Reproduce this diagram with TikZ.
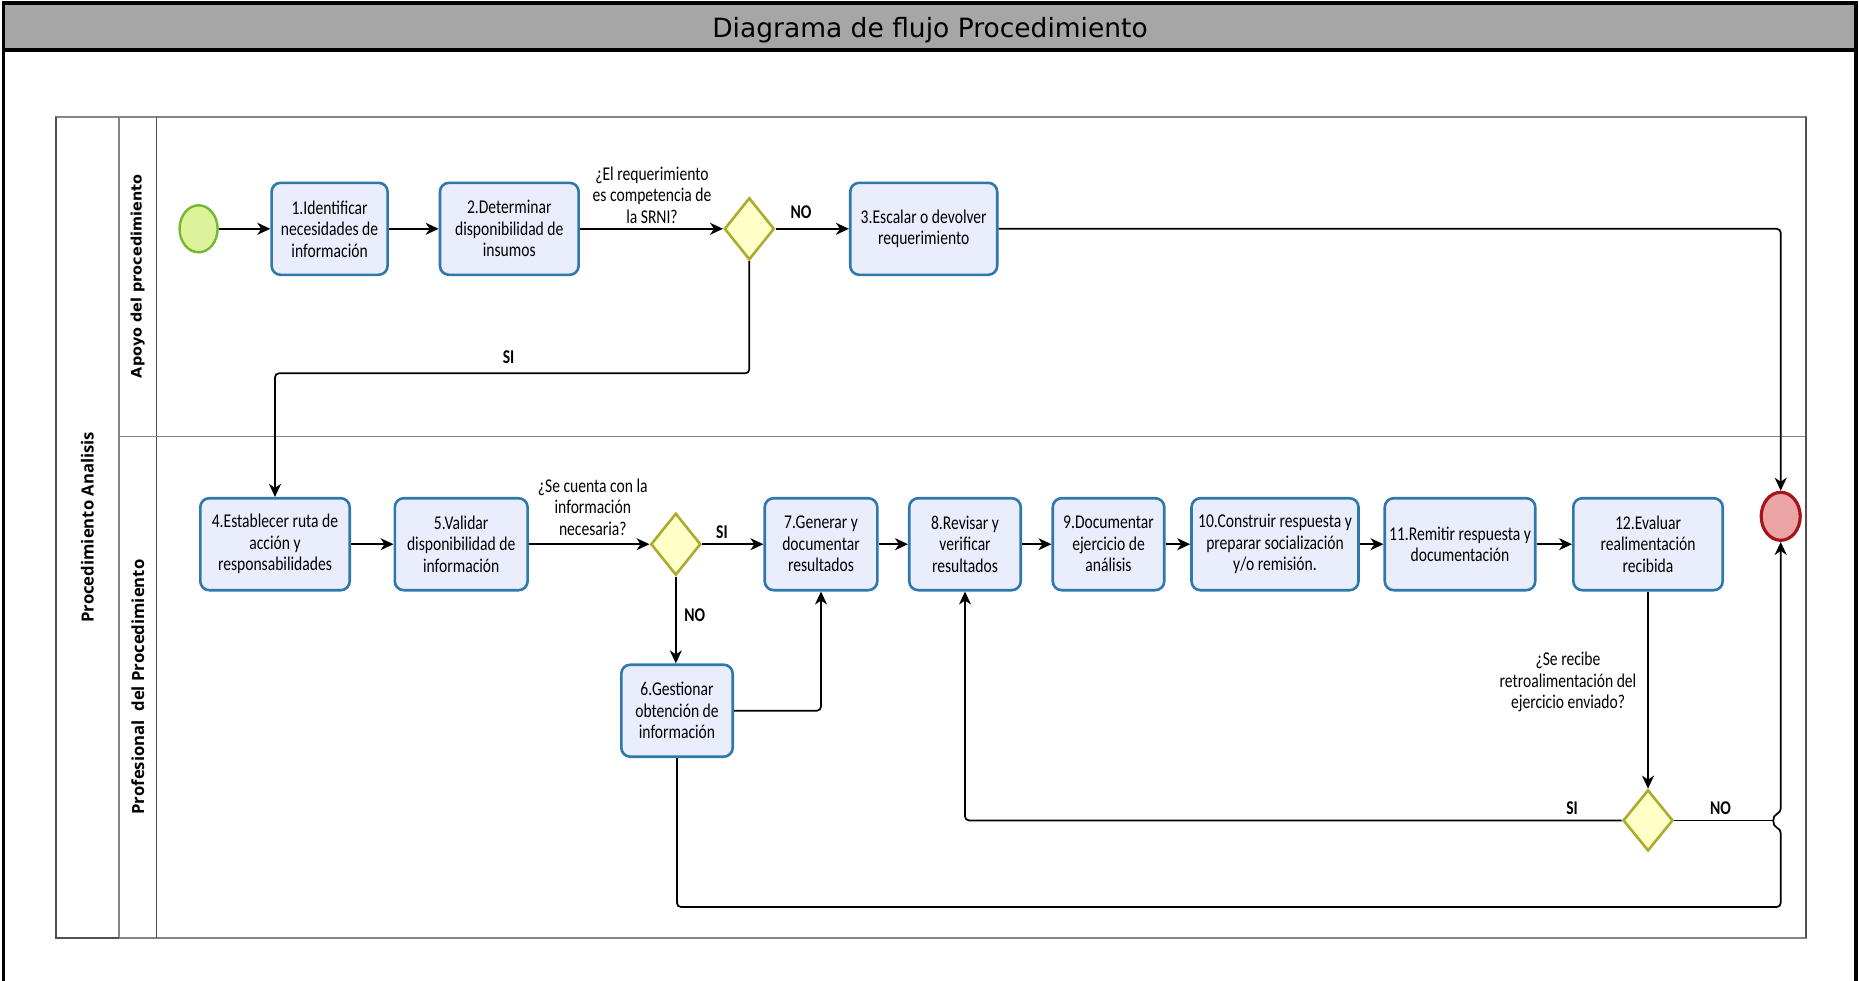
\documentclass[tikz,border=0pt]{standalone}
\usepackage{fontspec}
\usetikzlibrary{shapes.geometric,arrows.meta}
\newfontfamily\taskfont{Carlito}[FakeStretch=0.8]
\newfontfamily\titlefont{DejaVu Sans}
\newfontfamily\lanefont{DejaVu Sans}
\newfontfamily\poolfont{Open Sans}
\definecolor{taskfill}{HTML}{EAEEFC}
\definecolor{taskline}{HTML}{2E78AC}
\definecolor{gatefill}{HTML}{FFFFC8}
\definecolor{gateline}{HTML}{ABAB2E}
\definecolor{startfill}{HTML}{DDF39A}
\definecolor{startline}{HTML}{72B833}
\definecolor{endfill}{HTML}{EBA5A5}
\definecolor{endline}{HTML}{A3141B}
\definecolor{titlefill}{HTML}{A6A6A6}
\definecolor{poolline}{HTML}{858585}
\definecolor{pooldark}{HTML}{505050}
\begin{document}
\begin{tikzpicture}[x=1pt,y=-1pt,
 task/.style={draw=taskline, fill=taskfill, line width=2.6pt, rounded corners=9pt, align=center, inner sep=0pt, minimum height=92pt, font=\taskfont\fontsize{19.5}{21.5}\selectfont},
 gate/.style={diamond, draw=gateline, fill=gatefill, line width=2.6pt, minimum width=50pt, minimum height=62pt, inner sep=0pt},
 flow/.style={draw=black, line width=1.7pt, rounded corners=4pt, -{Stealth[length=13pt,width=12pt,inset=4pt]}},
 plain/.style={draw=black, line width=1.7pt, rounded corners=4pt},
 qlabel/.style={align=center, inner sep=0pt, font=\taskfont\fontsize{19.5}{21.5}\selectfont},
 blabel/.style={inner sep=0pt, font=\taskfont\bfseries\fontsize{19.5}{21.5}\selectfont},
 lanelabel/.style={rotate=90, inner sep=0pt},
]
\useasboundingbox (0,0) rectangle (1859,980);
% frame and title
\fill[titlefill] (3,3) rectangle (1856,49.5);
\draw[line width=3.3pt] (3.5,985) -- (3.5,3) -- (1856,3) -- (1856,985);
\draw[line width=4pt] (3,49.5) -- (1856,49.5);
\node[anchor=base, inner sep=0pt, font=\titlefont\fontsize{26.5}{30}\selectfont] (title) at (930,37.7) {Diagrama de flujo Procedimiento};
% pool and lanes
\draw[poolline, line width=1.6pt] (55.8,116.7) rectangle (1805.7,937.7);
\draw[poolline, line width=1.6pt] (119,116.7) -- (119,937.7);
\draw[pooldark, line width=1.6pt] (156.6,116.7) -- (156.6,937.7);
\draw[poolline, line width=1.6pt] (119,436.3) -- (1805.7,436.3);
\draw[pooldark, line width=2pt] (55.8,116.7) -- (55.8,937.7) -- (119,937.7);
\draw[pooldark, line width=1.6pt] (1805.7,116.7) -- (1805.7,937.7);
\node[lanelabel, font=\poolfont\bfseries\fontsize{16.7}{20}\selectfont] (pool) at (87.4,527.2) {Procedimiento Analisis};
\node[lanelabel, font=\lanefont\bfseries\fontsize{14.4}{18}\selectfont] (lane1) at (137.8,276.5) {Apoyo del procedimiento};
\node[lanelabel, font=\poolfont\bfseries\fontsize{16.7}{20}\selectfont] (lane2) at (137.8,687) {Profesional\ \ del Procedimiento};
% events
\node[ellipse, draw=startline, fill=startfill, line width=2.4pt, minimum width=38pt, minimum height=47pt, inner sep=0pt] (s) at (198.6,228.8) {};
\node[ellipse, draw=endline, fill=endfill, line width=3.2pt, minimum width=39pt, minimum height=48pt, inner sep=0pt] (e) at (1780.7,516.3) {};
% tasks lane 1
\node[task, minimum width=116pt] (t1) at (329.6,228.8) {1.Identificar\\necesidades de\\información};
\node[task, minimum width=138.7pt] (t2) at (509.3,228.8) {2.Determinar\\disponibilidad de\\insumos};
\node[gate] (g1) at (749.3,228.8) {};
\node[task, minimum width=147pt] (t3) at (923.7,228.8) {3.Escalar o devolver\\requerimiento};
% tasks lane 2
\node[task, minimum width=149.4pt] (t4) at (275,544.2) {4.Establecer ruta de\\acción y\\responsabilidades};
\node[task, minimum width=132.8pt] (t5) at (461.2,544.2) {5.Validar\\disponibilidad de\\información};
\node[gate] (g2) at (675.8,544.2) {};
\node[task, minimum width=111.4pt] (t6) at (677,710.7) {6.Gestionar\\obtención de\\información};
\node[task, minimum width=112.6pt] (t7) at (821,544.2) {7.Generar y\\documentar\\resultados};
\node[task, minimum width=111.5pt] (t8) at (965,544.2) {8.Revisar y\\verificar\\resultados};
\node[task, minimum width=111.5pt] (t9) at (1108.5,544.2) {9.Documentar\\ejercicio de\\análisis};
\node[task, minimum width=167pt] (t10) at (1275,544.2) {10.Construir respuesta y\\preparar socialización\\y/o remisión.};
\node[task, minimum width=150.5pt] (t11) at (1460,544.2) {11.Remitir respuesta y\\documentación};
\node[task, minimum width=149.4pt] (t12) at (1648,544.2) {12.Evaluar\\realimentación\\recibida};
\node[gate, minimum height=61pt] (g3) at (1648,820.4) {};
% labels
\node[qlabel] (q1) at (652,195) {¿El requerimiento\\es competencia de\\la SRNI?};
\node[qlabel] (q2) at (592.8,507) {¿Se cuenta con la\\información\\necesaria?};
\node[qlabel] (q3) at (1568,682) {¿Se recibe\\retroalimentación del\\ejercicio enviado?};
\node[blabel] (no1) at (801,211.7) {NO};
\node[blabel] (si1) at (508.6,357.3) {SI};
\node[blabel] (si2) at (722,531.7) {SI};
\node[blabel] (no2) at (694.8,615.3) {NO};
\node[blabel] (si3) at (1572,808) {SI};
\node[blabel] (no3) at (1720.5,808) {NO};
% connectors
\coordinate (hopb) at (1780.7,829);
\coordinate (hopt) at (1780.7,812.7);
\draw[flow] (s) -- (t1);
\draw[flow] (t1) -- (t2);
\draw[flow] (t2) -- (g1);
\draw[flow] (g1) -- (t3);
\draw[flow] (t3.east) -- (e.north |- t3.east) -- (e.north);
\draw[flow] (g1.south) -- (g1.south |- 0,373.3) -- (t4.north |- 0,373.3) -- (t4.north);
\draw[flow] (t4) -- (t5);
\draw[flow] (t5) -- (g2);
\draw[flow] (g2) -- (t7);
\draw[flow] (g2.south) -- (g2.south |- t6.north);
\draw[flow] (t6.east) -| (t7.south);
\draw[flow] (t7) -- (t8);
\draw[flow] (t8) -- (t9);
\draw[flow] (t9) -- (t10);
\draw[flow] (t10) -- (t11);
\draw[flow] (t11) -- (t12);
\draw[flow] (t12.south) -- (g3.north);
\draw[flow] (g3.west) -- (t8.south |- g3.west) -- (t8.south);
\draw[plain] (g3.east) -- (1774,820.4);
\draw[flow] (t6.south) -- (t6.south |- 0,907) -- (hopb |- 0,907) -- (hopb) .. controls (1772,826) and (1772,815.5) .. (hopt) -- (e.south);
\end{tikzpicture}
\end{document}
